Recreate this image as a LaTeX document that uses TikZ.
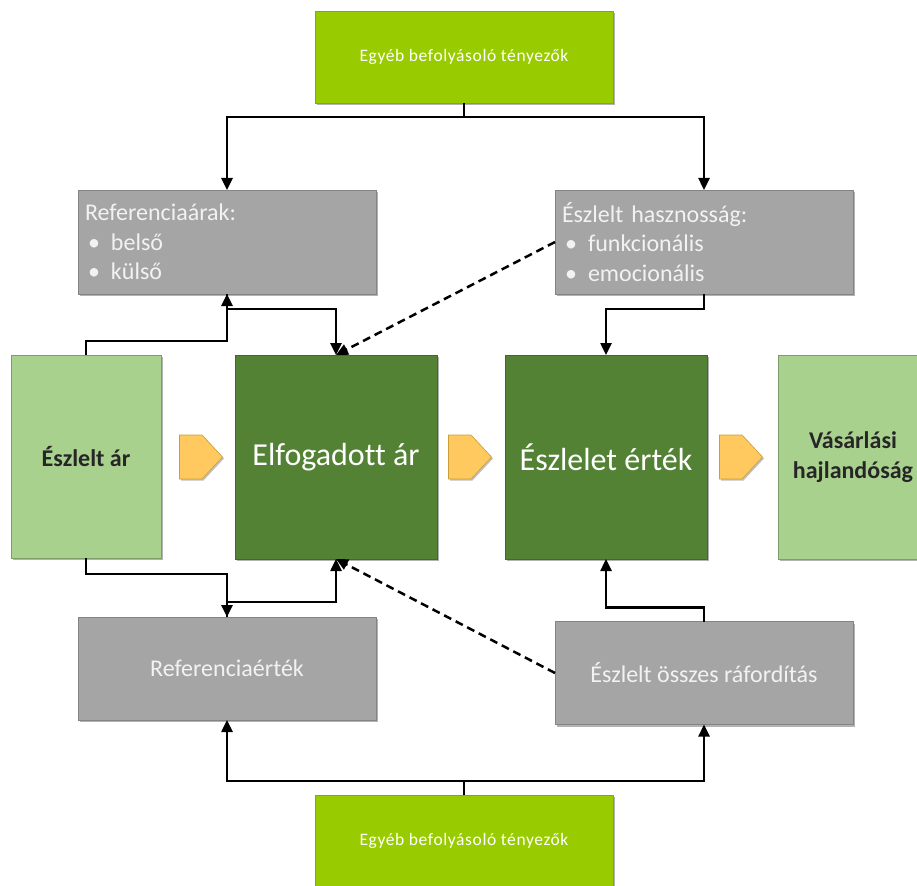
\documentclass[tikz,border=0pt]{standalone}
\usepackage{fontspec}
\setmainfont{Carlito}[Ligatures=NoCommon]
\usetikzlibrary{arrows.meta,shadows}
\definecolor{limeg}{HTML}{99CC00}
\definecolor{greyb}{HTML}{A5A5A5}
\definecolor{darkg}{HTML}{548235}
\definecolor{lightg}{HTML}{A9D18E}
\definecolor{goldf}{HTML}{FFC95F}
\definecolor{goldd}{HTML}{C9A038}
\definecolor{txtdark}{HTML}{262626}
\begin{document}
\begin{tikzpicture}[x=1pt,y=-1pt,
  boxbase/.style={rectangle,inner sep=0pt,outer sep=0pt,line width=0.6pt,
    drop shadow={shadow xshift=2pt,shadow yshift=-2pt,opacity=0.3,fill=black}},
  limebox/.style={boxbase,fill=limeg,draw=limeg!85!black,minimum width=298pt,minimum height=92pt,
    text=white,font=\fontsize{17.5}{20}\selectfont\addfontfeature{LetterSpace=3.5}},
  greybox/.style={boxbase,fill=greyb,draw=greyb!80!black,minimum width=298pt,minimum height=104pt,
    text=white!95!black,font=\fontsize{24}{29.5}\selectfont},
  darkbox/.style={boxbase,fill=darkg,draw=darkg!80!black,minimum width=202pt,minimum height=204pt,
    text=white,font=\fontsize{32}{38}\selectfont},
  lightbox/.style={boxbase,fill=lightg,draw=lightg!75!black,minimum width=150pt,minimum height=204pt,
    text=txtdark,align=center,font=\fontsize{24}{30}\selectfont\bfseries},
  pentshape/.style={fill=goldf,draw=goldd,line width=0.6pt,line join=miter,
    drop shadow={shadow xshift=1.5pt,shadow yshift=-1.5pt,opacity=0.25,fill=black}},
  arr/.style={line width=2.5pt,-{Triangle[length=12pt,width=11pt]}},
  dsh/.style={arr,dash pattern=on 8pt off 5pt}
]
\useasboundingbox (0,0) rectangle (917,885);

\node[limebox] (top) at (464,57) {Egyéb befolyásoló tényezők};
\node[limebox,minimum height=92pt] (bot) at (464,841) {Egyéb befolyásoló tényezők};

\node[greybox,align=left,text width=284pt] (ref) at (227,242)
  {Referenciaárak:\\\makebox[26pt][l]{\hspace{3pt}•}belső\\\makebox[26pt][l]{\hspace{3pt}•}külső};
\node[greybox,align=left,text width=284pt] (hasz) at (704,242)
  {\mbox{Észlelt hasznosság:}\\\makebox[26pt][l]{\hspace{3pt}•}funkcionális\\\makebox[26pt][l]{\hspace{3pt}•}emocionális};

\node[lightbox,minimum height=203pt] (ar) at (86,456.5) {Észlelt ár};
\node[darkbox] (elf) at (336,457) {\raisebox{-2pt}{Elfogadott ár}};
\node[darkbox] (ert) at (606,457) {\raisebox{-2pt}{Észlelet érték}};
\node[lightbox] (vas) at (853,457) {Vásárlási\\hajlandóság};

% pentagon arrows between the boxes
\foreach \cx in {201,470,741}{
  \path[pentshape] (\cx-21.5,435) -- (\cx+1,435) -- (\cx+21.5,457) -- (\cx+1,479) -- (\cx-21.5,479) -- cycle;
}

\node[greybox,minimum height=103pt] (refert) at (227,668.5) {Referenciaérték};
\node[greybox,minimum height=103pt] (rafor) at (704,673) {Észlelt összes ráfordítás};

% top connectors
\draw[arr] (top.south) -- ++(0,14) -| (ref.north);
\draw[arr] (top.south) -- ++(0,14) -| (hasz.north);
% around Elfogadott ár, top
\draw[arr] (ar.north) -- ++(0,-14) -| (ref.south);
\draw[arr] (ref.south) -- ++(0,15) -| (elf.north);
\draw[dsh] (hasz.west) -- (elf.north);
\draw[arr] (hasz.south) -- ++(0,15) -| (ert.north);
% bottom
\draw[arr] (ar.south) -- ++(0,16) -| (refert.north);
\draw[arr] (refert.north) -- ++(0,-15) -| (elf.south);
\draw[dsh] (rafor.west) -- (elf.south);
\draw[arr] (rafor.north) -- ++(0,-14) -| (ert.south);
\draw[arr] (bot.north) -- ++(0,-14) -| (refert.south);
\draw[arr] (bot.north) -- ++(0,-14) -| (rafor.south);
\end{tikzpicture}
\end{document}
